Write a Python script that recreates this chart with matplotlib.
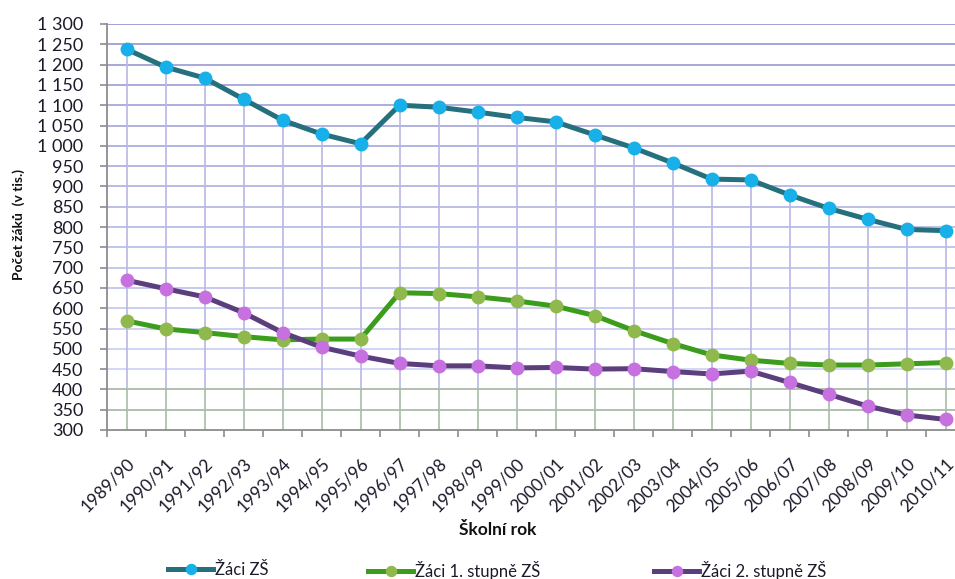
import matplotlib
matplotlib.use("Agg")
import matplotlib.pyplot as plt
import numpy as np
from matplotlib.ticker import FuncFormatter, MultipleLocator
import matplotlib.colors as mcolors

years = ["1989/90", "1990/91", "1991/92", "1992/93", "1993/94", "1994/95", "1995/96",
         "1996/97", "1997/98", "1998/99", "1999/00", "2000/01", "2001/02", "2002/03",
         "2003/04", "2004/05", "2005/06", "2006/07", "2007/08", "2008/09", "2009/10", "2010/11"]
zaci_zs = [1238, 1194, 1167, 1115, 1063, 1029, 1005, 1100, 1095, 1083, 1070, 1059, 1027, 995,
           958, 918, 916, 879, 846, 819, 794, 791]
zaci_1st = [569, 549, 540, 530, 522, 524, 524, 638, 636, 628, 618, 605, 582, 545,
            513, 485, 472, 464, 460, 460, 463, 466]
zaci_2st = [669, 648, 628, 589, 540, 504, 482, 464, 458, 458, 453, 454, 450, 451,
            444, 438, 445, 417, 388, 359, 337, 326]
series_names = ["Žáci ZŠ", "Žáci 1. stupně ZŠ", "Žáci 2. stupně ZŠ"]

plt.rcParams['font.family'] = ['Lato', 'DejaVu Sans']

W, H = 955, 579
fig = plt.figure(figsize=(W / 100, H / 100), dpi=100)
left, right, top, bottom = 107, 955, 24, 430
ax = fig.add_axes([left / W, 1 - bottom / H, (right - left) / W, (bottom - top) / H])

x = np.arange(len(years))
ymin, ymax = 300, 1300
ax.set_ylim(ymin, ymax)
# plot area is cut by the image's right edge
ax.set_xlim(-0.5, len(years) - 0.5 - 10 / 39)

# gridlines with gradient colours
c_top = np.array(mcolors.to_rgb('#9a9ad2'))
c_mid = np.array(mcolors.to_rgb('#d0d4f6'))
c_low = '#a9bca9'
for v in range(ymin + 50, ymax + 1, 50):
    if v <= 400:
        col = c_low
    else:
        t = (v - 450) / (1300 - 450)
        col = tuple(c_mid + (c_top - c_mid) * max(0, t))
    ax.axhline(v, color=col, lw=1.3, zorder=1)

# drop lines from top series
for xi, v in zip(x, zaci_zs):
    ax.plot([xi, xi], [400, v], color='#b8b8e6', lw=1.2, zorder=1)
    ax.plot([xi, xi], [ymin, 400], color='#a9bca9', lw=1.2, zorder=1)

styles = [
    (zaci_zs, '#26707e', '#17b0e8'),
    (zaci_1st, '#3c9c1c', '#8fb94c'),
    (zaci_2st, '#5b3f7c', '#c770df'),
]
handles = []
for (vals, lc, mc), name in zip(styles, series_names):
    h, = ax.plot(x, vals, color=lc, lw=3.6, marker='o', markersize=9,
                 markerfacecolor=mc, markeredgecolor=mc, label=name, zorder=3)
    handles.append(h)

for s in ['top', 'right']:
    ax.spines[s].set_visible(False)
ax.spines['left'].set_color('#8c8c8c')
ax.spines['bottom'].set_color('#8c8c8c')
ax.spines['left'].set_linewidth(1.3)
ax.spines['bottom'].set_linewidth(1.3)

ax.yaxis.set_major_locator(MultipleLocator(50))
ax.yaxis.set_major_formatter(FuncFormatter(lambda v, p: f"{int(v):,}".replace(",", " ")))
ax.tick_params(axis='y', length=5, width=1.2, color='#8c8c8c', labelsize=13,
               labelcolor='#1a1a2a', pad=12)

ax.set_xticks(np.arange(-0.5, len(years) - 0.5, 1.0))
ax.set_xticklabels([])
ax.tick_params(axis='x', which='major', length=5, width=1.2, color='#8c8c8c')
ax.set_xticks(x, minor=True)
ax.set_xticklabels(years, minor=True, rotation=45, ha='right', rotation_mode='anchor',
                   fontsize=12.5, color='#1a1a2a')
ax.tick_params(axis='x', which='minor', length=0, pad=18)

fig.text(19 / W, 1 - 225 / H, "Počet žáků  (v tis.)", rotation=90, ha='center', va='center',
         fontsize=10, fontweight='bold', color='#111111')
fig.text(498 / W, 1 - 530 / H, "Školní rok", ha='center', va='center',
         fontsize=12.5, fontweight='bold', color='#111111')

# legend entries placed individually
leg_x = [168, 368, 654]
for h, lx in zip(handles, leg_x):
    leg = fig.legend([h], [h.get_label()], loc='center left',
                     bbox_to_anchor=(lx / W, 1 - 570 / H), frameon=False, fontsize=12,
                     handlelength=2.7, handletextpad=0.1, markerscale=0.8,
                     borderpad=0, borderaxespad=0)
    for t in leg.get_texts():
        t.set_color('#1a1a2a')

fig.savefig("out.png", dpi=100)
